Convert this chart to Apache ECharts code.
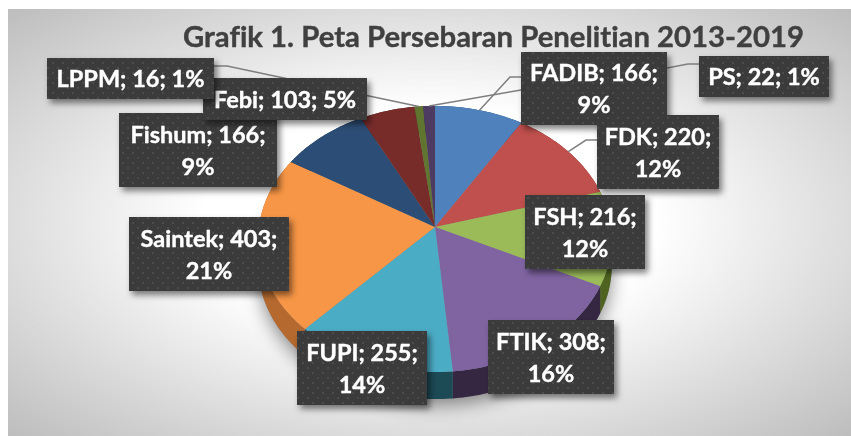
<!DOCTYPE html>
<html>
<head>
<meta charset="utf-8">
<title>Grafik 1</title>
<script src="https://cdn.jsdelivr.net/npm/echarts@6/dist/echarts.min.js"></script>
<style>
  html, body { margin: 0; padding: 0; background: #fff; }
  #frame {
    position: absolute; left: 8px; top: 9px; width: 843px; height: 427px;
    background: radial-gradient(ellipse farthest-corner at 50% 50%, #ffffff 38%, #bdbdbd 100%);
  }
  #chart { position: absolute; left: 0; top: 0; width: 851px; height: 436px; }
</style>
</head>
<body>
<div id="frame"></div>
<div id="chart"></div>
<script>
const titleText = "Grafik 1. Peta Persebaran Penelitian 2013-2019";
const names = ["FADIB", "FDK", "FSH", "FTIK", "FUPI", "Saintek", "Fishum", "Febi", "LPPM", "PS"];
const values = [166, 220, 216, 308, 255, 403, 166, 103, 16, 22];
const percents = [9, 12, 12, 16, 14, 21, 9, 5, 1, 1];

const topColors = ["#4f81bd", "#c0504d", "#9bbb59", "#8064a2", "#4bacc6", "#f79646", "#2c4d75", "#772c2a", "#5f7530", "#4d3b62"];
const sideColors = ["#2f4d71", "#73302e", "#4f6320", "#352742", "#1c4a55", "#b5692f", "#1a2e46", "#471a19", "#39461d", "#2e233b"];

// label boxes [x, y, w, h], drawn in this order so the overlaps come out right
const drawOrder = [0, 1, 2, 3, 4, 5, 6, 7, 8, 9];
const boxes = {
  FADIB: [521, 52, 146, 73],
  FDK: [597, 115, 122, 74],
  FSH: [525, 195, 120, 74],
  FTIK: [488, 320, 126, 74],
  FUPI: [297, 331, 130, 74],
  Saintek: [129, 217, 160, 74],
  Fishum: [119, 113, 158, 74],
  Febi: [203, 78, 164, 42],
  LPPM: [47, 58, 167, 41],
  PS: [699, 56, 130, 41]
};
// leader elbows, from the slice rim out to the label
const leaders = {
  FADIB: [[510, 77], [521, 77]],
  FDK: [[586, 140], [597, 140]],
  LPPM: [[227, 66], [214, 66]],
  PS: [[521, 90], [667, 68], [688, 64], [699, 64]]
};

// tilted pie projection
const cx = 435, cy = 227, rx = 176, ry = 132, persp = 0.09, depth = 27;
const total = values.reduce((a, b) => a + b, 0);

function rim(deg, dy) {
  const t = deg * Math.PI / 180;
  const u = Math.sin(t), v = -Math.cos(t), w = 1 - persp * v;
  return [cx + rx * u / w, cy + (dy || 0) + ry * v / w];
}
function startDeg(i) {
  let s = 0;
  for (let k = 0; k < i; k++) s += values[k];
  return s / total * 360;
}
function arc(a, b, dy) {
  const pts = [];
  const n = Math.max(2, Math.ceil(b - a));
  for (let k = 0; k <= n; k++) pts.push(rim(a + (b - a) * k / n, dy));
  return pts;
}

const dotTile = document.createElement("canvas");
dotTile.width = 10; dotTile.height = 10;
const tc = dotTile.getContext("2d");
tc.fillStyle = "#3b3b3b"; tc.fillRect(0, 0, 10, 10);
tc.fillStyle = "#4c4c4c"; tc.fillRect(2, 2, 2, 2); tc.fillRect(7, 7, 2, 2);

const indexData = values.map((v, i) => [i, v]);

const option = {
  animation: false,
  backgroundColor: "transparent",
  title: {
    text: titleText, left: 178, top: 18,
    textStyle: {
      fontFamily: "Lato", fontWeight: "bold", fontSize: 29.3, color: "#404040",
      textBorderColor: "#404040", textBorderWidth: 0.4
    }
  },
  series: [
    {
      // soft shadow under the whole pie
      type: "custom", coordinateSystem: "none", z: 1, silent: true,
      data: [[0]],
      renderItem: () => ({
        type: "polygon",
        shape: { points: arc(0, 360, depth) },
        style: { fill: "#888", shadowColor: "rgba(0,0,0,0.45)", shadowBlur: 18, shadowOffsetY: 6 }
      })
    },
    {
      type: "custom", coordinateSystem: "none", z: 2, silent: true,
      data: indexData,
      renderItem: (p, api) => {
        const i = api.value(0);
        const a = startDeg(i), b = a + api.value(1) / total * 360;
        return {
          type: "polygon",
          shape: { points: arc(a, b, 0).concat(arc(a, b, depth).reverse()) },
          style: { fill: sideColors[i] }
        };
      }
    },
    {
      type: "custom", coordinateSystem: "none", z: 3, silent: true,
      data: indexData,
      renderItem: (p, api) => {
        const i = api.value(0);
        const a = startDeg(i), b = a + api.value(1) / total * 360;
        return {
          type: "polygon",
          shape: { points: [[cx, cy]].concat(arc(a, b, 0)) },
          style: { fill: topColors[i] }
        };
      }
    },
    {
      type: "custom", coordinateSystem: "none", z: 4, silent: true,
      data: indexData.filter(d => leaders[names[d[0]]]),
      renderItem: (p, api) => {
        const i = api.value(0);
        const mid = startDeg(i) + api.value(1) / total * 180;
        return {
          type: "polyline",
          shape: { points: [rim(mid, 0)].concat(leaders[names[i]]) },
          style: { fill: "none", stroke: "#7f7f7f", lineWidth: 1.5 }
        };
      }
    },
    {
      type: "custom", coordinateSystem: "none", z: 5, silent: true,
      data: drawOrder.map(i => [i, values[i]]),
      renderItem: (p, api) => {
        const i = api.value(0), b = boxes[names[i]];
        const oneLine = b[3] < 50;
        const label = names[i] + "; " + api.value(1) + ";" + (oneLine ? " " : "\n") + percents[i] + "%";
        return {
          type: "group",
          children: [
            {
              type: "rect", z2: p.dataIndex * 2,
              shape: { x: b[0], y: b[1], width: b[2], height: b[3] },
              style: {
                fill: { image: dotTile, repeat: "repeat" },
                shadowColor: "rgba(0,0,0,0.5)", shadowBlur: 6, shadowOffsetX: 3, shadowOffsetY: 4
              }
            },
            {
              type: "text", z2: p.dataIndex * 2 + 1,
              style: {
                x: b[0] + b[2] / 2, y: b[1] + b[3] / 2 + 1,
                text: label, fill: "#fff", stroke: "#fff", lineWidth: 0.4,
                font: "bold 23.5px Lato", lineHeight: 32,
                align: "center", verticalAlign: "middle"
              }
            }
          ]
        };
      }
    }
  ]
};

const chart = echarts.init(document.getElementById("chart"), null, { renderer: "canvas" });
chart.setOption(option);
// no ligatures, the original font had none: repaint once the canvas exists
const cv = chart.getDom().querySelector("canvas");
if (cv) {
  cv.getContext("2d").textRendering = "optimizeSpeed";
  chart.clear();
  chart.setOption(option);
}
</script>
</body>
</html>
